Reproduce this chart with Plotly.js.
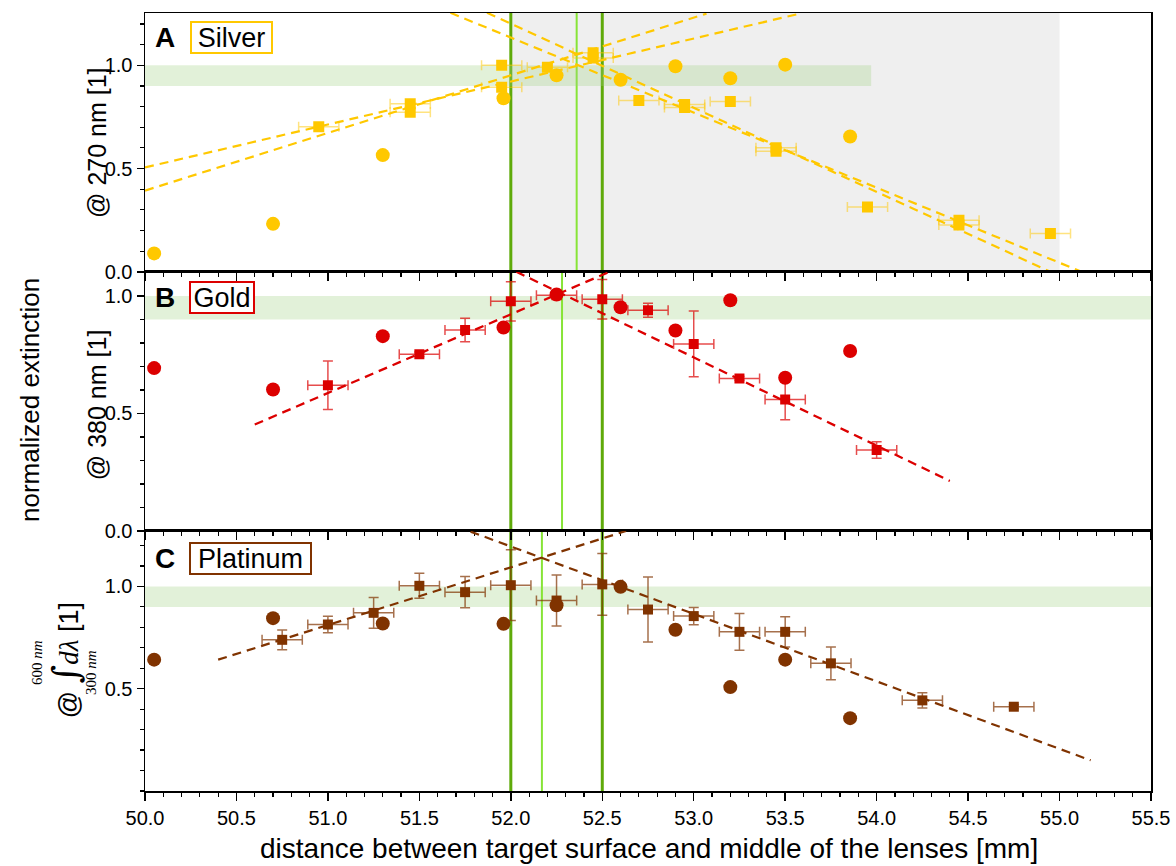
<!DOCTYPE html>
<html><head><meta charset="utf-8">
<script src="https://cdn.plot.ly/plotly-3.0.1.min.js"></script>
<style>body{margin:0;background:#fff}#chart{width:1176px;height:866px}</style>
</head><body><div id="chart"></div>
<script>
// ---------- DATA ----------
// circles (shared x positions)
const circX = [50.05, 50.70, 51.30, 51.96, 52.25, 52.60, 52.90, 53.20, 53.50, 53.855];
const silverCircY = [0.089, 0.232, 0.565, 0.840, 0.951, 0.930, 0.995, 0.937, 1.003, 0.655];
const goldCircY   = [0.693, 0.602, 0.829, 0.866, 1.006, 0.952, 0.853, 0.982, 0.652, 0.766];
const platCircY   = [0.642, 0.845, 0.819, 0.817, 0.908, 0.998, 0.788, 0.508, 0.642, 0.356];

// squares with error bars
const silverSqX  = [50.95, 51.45, 51.45, 51.95, 51.95, 52.20, 52.45, 52.45, 52.70, 52.95, 52.95, 53.20, 53.45, 53.45, 53.95, 54.45, 54.45, 54.95];
const silverSqY  = [0.702, 0.813, 0.772, 1.000, 0.893, 0.990, 1.060, 1.035, 0.829, 0.810, 0.795, 0.825, 0.600, 0.583, 0.314, 0.250, 0.226, 0.185];
const silverSqEx = [0.11, 0.11, 0.11, 0.11, 0.11, 0.11, 0.11, 0.11, 0.11, 0.11, 0.11, 0.11, 0.11, 0.11, 0.11, 0.11, 0.11, 0.11];

const goldSqX  = [51.00, 51.50, 51.75, 52.00, 52.25, 52.50, 52.75, 53.00, 53.25, 53.50, 54.00];
const goldSqY  = [0.620, 0.752, 0.855, 0.977, 1.003, 0.986, 0.939, 0.796, 0.649, 0.559, 0.345];
const goldSqEy = [0.103, 0.010, 0.050, 0.084, 0.010, 0.084, 0.030, 0.140, 0.008, 0.086, 0.035];
const goldSqEx = [0.11, 0.11, 0.11, 0.11, 0.11, 0.11, 0.11, 0.11, 0.11, 0.11, 0.11];

const platSqX  = [50.75, 51.00, 51.25, 51.50, 51.75, 52.00, 52.25, 52.50, 52.75, 53.00, 53.25, 53.50, 53.75, 54.25, 54.75];
const platSqY  = [0.739, 0.814, 0.871, 1.003, 0.972, 1.006, 0.931, 1.010, 0.887, 0.855, 0.778, 0.778, 0.624, 0.443, 0.412];
const platSqEy = [0.048, 0.040, 0.075, 0.061, 0.076, 0.173, 0.125, 0.151, 0.159, 0.042, 0.090, 0.074, 0.080, 0.037, 0.010];
const platSqEx = [0.11, 0.11, 0.11, 0.11, 0.11, 0.11, 0.11, 0.11, 0.11, 0.11, 0.11, 0.11, 0.11, 0.11, 0.11];

// linear fit lines (end points)
const silverFitRise1X = [50.00, 53.58], silverFitRise1Y = [0.505, 1.250];
const silverFitRise2X = [50.00, 53.07], silverFitRise2Y = [0.393, 1.250];
const silverFitFall1X = [51.67, 55.12], silverFitFall1Y = [1.254, 0.000];
const silverFitFall2X = [51.87, 54.95], silverFitFall2Y = [1.254, 0.000];
const goldFitRiseX = [50.60, 52.54], goldFitRiseY = [0.453, 1.103];
const goldFitFallX = [52.03, 54.40], goldFitFallY = [1.103, 0.213];
const platFitRiseX = [50.40, 52.63], platFitRiseY = [0.642, 1.271];
const platFitFallX = [51.78, 55.17], platFitFallY = [1.268, 0.150];

// marked regions
const focusLines = [52.0, 52.5];          // dark green verticals
const crossLines = [52.36, 52.28, 52.17]; // light green verticals (A, B, C)
const greyRegionX = [52.0, 55.0];
const silverBandX = [50.0, 53.97];
const bandY = [0.9, 1.0];

const xTickVals = [50.0, 50.5, 51.0, 51.5, 52.0, 52.5, 53.0, 53.5, 54.0, 54.5, 55.0, 55.5];
const xTickText = ['50.0','50.5','51.0','51.5','52.0','52.5','53.0','53.5','54.0','54.5','55.0','55.5'];

// ---------- STYLE ----------
const cSilver = 'rgb(255,200,0)', cGold = 'rgb(220,0,0)', cPlat = 'rgb(128,51,0)';
const FONT = 'Liberation Sans, Arial, sans-serif';

function circles(x, y, c, xa, ya) {
  return {type:'scatter', mode:'markers', x, y, xaxis:xa, yaxis:ya,
    marker:{symbol:'circle', size:14, color:c}, showlegend:false, hoverinfo:'skip'};
}
function squares(x, y, ex, ey, c, ebc, xa, ya, size) {
  const t = {type:'scatter', mode:'markers', x, y, xaxis:xa, yaxis:ya,
    marker:{symbol:'square', size:size, color:c}, showlegend:false, hoverinfo:'skip',
    error_x:{type:'data', array:ex, visible:true, color:ebc, thickness:1.5, width:5}};
  if (ey) t.error_y = {type:'data', array:ey, visible:true, color:ebc, thickness:1.5, width:5};
  return t;
}
function fit(x, y, c, xa, ya, w) {
  return {type:'scatter', mode:'lines', x, y, xaxis:xa, yaxis:ya,
    line:{color:c, width:w, dash:'9px,6px'}, showlegend:false, hoverinfo:'skip'};
}

const traces = [
  fit(silverFitRise1X, silverFitRise1Y, cSilver, 'x', 'y', 2.2),
  fit(silverFitRise2X, silverFitRise2Y, cSilver, 'x', 'y', 2.2),
  fit(silverFitFall1X, silverFitFall1Y, cSilver, 'x', 'y', 2.2),
  fit(silverFitFall2X, silverFitFall2Y, cSilver, 'x', 'y', 2.2),
  squares(silverSqX, silverSqY, silverSqEx, null, cSilver, 'rgba(255,200,0,0.5)', 'x', 'y', 11),
  circles(circX, silverCircY, cSilver, 'x', 'y'),

  fit(goldFitRiseX, goldFitRiseY, cGold, 'x2', 'y2', 2.3),
  fit(goldFitFallX, goldFitFallY, cGold, 'x2', 'y2', 2.3),
  squares(goldSqX, goldSqY, goldSqEx, goldSqEy, cGold, 'rgba(220,0,0,0.7)', 'x2', 'y2', 10),
  circles(circX, goldCircY, cGold, 'x2', 'y2'),

  fit(platFitRiseX, platFitRiseY, cPlat, 'x3', 'y3', 2.2),
  fit(platFitFallX, platFitFallY, cPlat, 'x3', 'y3', 2.2),
  squares(platSqX, platSqY, platSqEx, platSqEy, cPlat, 'rgba(128,51,0,0.7)', 'x3', 'y3', 10),
  circles(circX, platCircY, cPlat, 'x3', 'y3')
];

const xBase = {range:[50, 55.5], tickmode:'array', tickvals:xTickVals, ticktext:xTickText,
  ticks:'outside', ticklen:8, tickwidth:1.5, tickcolor:'#000', ticklabelstandoff:0,
  minor:{ticks:'outside', ticklen:4, tickwidth:1.2, dtick:0.1, tick0:50, tickcolor:'#000', showgrid:false},
  showline:true, mirror:true, linecolor:'#000', linewidth:1.5, showgrid:false, zeroline:false,
  showticklabels:false, tickfont:{family:FONT, size:20, color:'#000'}};
const yBase = {tickmode:'linear', dtick:0.5, tick0:0, tickformat:'.1f',
  ticks:'outside', ticklen:7, tickwidth:1.5, tickcolor:'#000',
  minor:{ticks:'outside', ticklen:4, tickwidth:1.2, dtick:0.1, tick0:0, tickcolor:'#000', showgrid:false},
  showline:true, mirror:true, linecolor:'#000', linewidth:1.5, showgrid:false, zeroline:false,
  tickfont:{family:FONT, size:20, color:'#000'}};

const dA = [0.6674, 1], dB = [0.3342, 0.6674], dC = [0, 0.3342];

const shapes = [];
// grey region in A
shapes.push({type:'rect', xref:'x', yref:'y domain', x0:greyRegionX[0], x1:greyRegionX[1], y0:0, y1:1,
  fillcolor:'rgb(239,239,239)', line:{width:0}, layer:'below'});
// green bands
shapes.push({type:'rect', xref:'x', yref:'y', x0:silverBandX[0], x1:silverBandX[1], y0:bandY[0], y1:bandY[1],
  fillcolor:'rgba(160,210,130,0.3)', line:{width:0}, layer:'below'});
shapes.push({type:'rect', xref:'x2 domain', yref:'y2', x0:0, x1:1, y0:bandY[0], y1:bandY[1],
  fillcolor:'rgba(160,210,130,0.3)', line:{width:0}, layer:'below'});
shapes.push({type:'rect', xref:'x3 domain', yref:'y3', x0:0, x1:1, y0:bandY[0], y1:bandY[1],
  fillcolor:'rgba(160,210,130,0.3)', line:{width:0}, layer:'below'});
// vertical lines
const axPairs = [['x','y'],['x2','y2'],['x3','y3']];
axPairs.forEach((p, i) => {
  focusLines.forEach(v => shapes.push({type:'line', xref:p[0], yref:p[1]+' domain', x0:v, x1:v, y0:0, y1:1,
    line:{color:'rgb(95,170,10)', width:3}, layer:'below'}));
  shapes.push({type:'line', xref:p[0], yref:p[1]+' domain', x0:crossLines[i], x1:crossLines[i], y0:0, y1:1,
    line:{color:'rgb(135,228,55)', width:2}, layer:'below'});
});

function letter(t, xa, ya, y) {
  return {text:'<b>'+t+'</b>', xref:xa+' domain', yref:ya+' domain', x:0.02, y:y, showarrow:false,
    xanchor:'center', yanchor:'middle', font:{family:FONT, size:28, color:'#000'}};
}
function boxLabel(t, xa, ya, x, y, c, w) {
  return {text:t, xref:xa+' domain', yref:ya+' domain', x:x, y:y, showarrow:false,
    xanchor:'center', yanchor:'middle', font:{family:FONT, size:27, color:'#000'},
    bordercolor:c, borderwidth:2, borderpad:0, bgcolor:'#fff', width:w, height:29};
}
const serif = 'DejaVu Serif, Liberation Serif, serif';
const annotations = [
  letter('A','x','y',0.906), boxLabel('Silver','x','y',0.0855,0.905,cSilver,79),
  letter('B','x2','y2',0.9), boxLabel('Gold','x2','y2',0.0765,0.9,cGold,62),
  letter('C','x3','y3',0.896), boxLabel('Platinum','x3','y3',0.105,0.896,cPlat,119),
  {text:'@ 270 nm [1]', xref:'paper', yref:'paper', x:-0.0477, y:0.833, textangle:-90, showarrow:false,
    xanchor:'center', yanchor:'middle', font:{family:FONT, size:25, color:'#000'}},
  {text:'@ 380 nm [1]', xref:'paper', yref:'paper', x:-0.0477, y:0.496, textangle:-90, showarrow:false,
    xanchor:'center', yanchor:'middle', font:{family:FONT, size:25, color:'#000'}},
  {text:'normalized extinction', xref:'paper', yref:'paper', x:-0.1143, y:0.5026, textangle:-90, showarrow:false,
    xanchor:'center', yanchor:'middle', font:{family:FONT, size:26, color:'#000'}},
  {text:'@ <span style="font-family:'+serif+';font-size:36px">∫</span><span style="font-family:Liberation Serif"><i>dλ</i></span> [1]',
    xref:'paper', yref:'paper', x:-0.0795, y:0.168, textangle:-90, showarrow:false,
    xanchor:'center', yanchor:'middle', font:{family:FONT, size:27, color:'#000'}},
  {text:'600 <i>nm</i>', xref:'paper', yref:'paper', x:-0.1074, y:0.1658, textangle:-90, showarrow:false,
    xanchor:'center', yanchor:'middle', font:{family:'Liberation Serif, serif', size:15, color:'#000'}},
  {text:'300 <i>nm</i>', xref:'paper', yref:'paper', x:-0.0537, y:0.153, textangle:-90, showarrow:false,
    xanchor:'center', yanchor:'middle', font:{family:'Liberation Serif, serif', size:15, color:'#000'}},
  {text:'distance between target surface and middle of the lenses [mm]', xref:'paper', yref:'paper',
    x:0.501, y:-0.0964, showarrow:false, xanchor:'center', yanchor:'bottom',
    font:{family:FONT, size:28, color:'#000'}}
];

const layout = {
  width:1176, height:866, margin:{l:145, r:25, t:13, b:75},
  paper_bgcolor:'#fff', plot_bgcolor:'rgba(0,0,0,0)', showlegend:false,
  font:{family:FONT, color:'#000'},
  xaxis: Object.assign({}, xBase, {anchor:'y', domain:[0,1]}),
  xaxis2: Object.assign({}, xBase, {anchor:'y2', domain:[0,1]}),
  xaxis3: Object.assign({}, xBase, {anchor:'y3', domain:[0,1], showticklabels:true}),
  xaxis4: Object.assign({}, xBase, {anchor:'y', overlaying:'x', side:'top', ticks:'inside', showline:false, mirror:false,
    minor:{ticks:'inside', ticklen:4, tickwidth:1.2, dtick:0.1, tick0:50, tickcolor:'#000', showgrid:false}}),
  yaxis: Object.assign({}, yBase, {anchor:'x', domain:dA, range:[0, 1.253]}),
  yaxis2: Object.assign({}, yBase, {anchor:'x2', domain:dB, range:[0, 1.103]}),
  yaxis3: Object.assign({}, yBase, {anchor:'x3', domain:dC, range:[0, 1.271], tickmode:'array', tickvals:[0.5, 1.0]}),
  shapes, annotations
};

Plotly.newPlot('chart', traces, layout, {staticPlot:true, displayModeBar:false});
</script></body></html>
